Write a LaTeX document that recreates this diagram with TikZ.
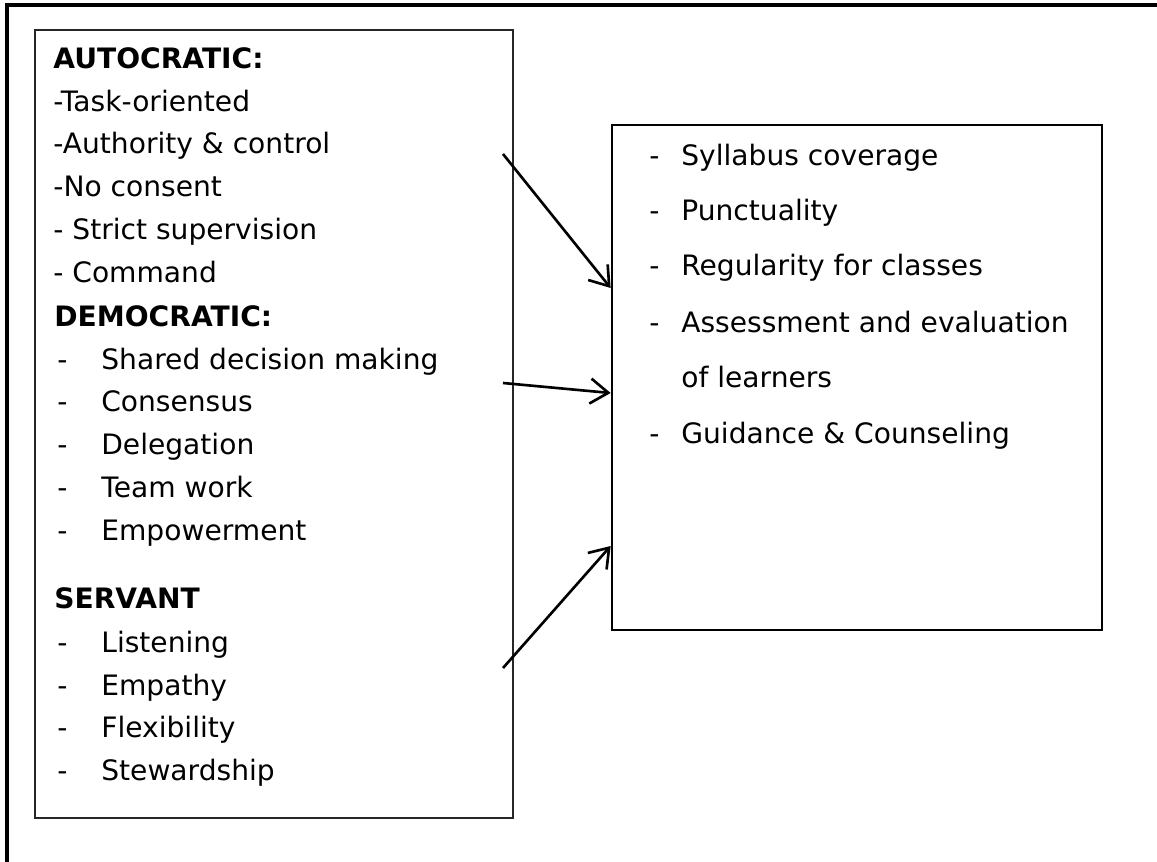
\documentclass[tikz,border=0pt]{standalone}
\usepackage{fontspec}
\setmainfont{DejaVu Sans}
\usepackage{tikz}
\usetikzlibrary{arrows.meta}

\newcommand{\dashitem}[2][0.88cm]{\makebox[#1][l]{-}#2}

\begin{document}
\begin{tikzpicture}[x=0.02cm, y=-0.02cm,
  line/.style={anchor=base west, inner sep=0pt, font=\fontsize{16}{20}\selectfont},
  head/.style={line, font=\fontsize{16}{20}\selectfont\bfseries},
  box/.style={rectangle, draw, inner sep=0pt},
  link/.style={line width=1.5pt, -{Straight Barb[length=0.36cm, width=0.5cm]}}]
  \useasboundingbox (0,0) rectangle (1157,862);
  % page frame, only top and left edge show
  \draw [line width=2.2pt] (7,862) -- (7,5) -- (1157,5);

  % the two boxes
  \node [box, line width=1.3pt, draw=black!85, minimum width=9.56cm, minimum height=15.76cm] (lead) at (274,424) {};
  \node [box, line width=1.6pt, minimum width=9.8cm, minimum height=10.1cm] (duty) at (857,377.5) {};

  % leadership styles
  \node [head] (auto) at (53,68) {AUTOCRATIC:};
  \node [line] (a1) at (53,111) {-Task-oriented};
  \node [line] (a2) at (53,153) {-Authority \& control};
  \node [line] (a3) at (53,196) {-No consent};
  \node [line] (a4) at (53,239) {- Strict supervision};
  \node [line] (a5) at (53,282) {- Command};
  \node [head] (demo) at (54,326) {DEMOCRATIC:};
  \node [line] (d1) at (57,369) {\dashitem{Shared decision making}};
  \node [line] (d2) at (57,411) {\dashitem{Consensus}};
  \node [line] (d3) at (57,454) {\dashitem{Delegation}};
  \node [line] (d4) at (57,497) {\dashitem{Team work}};
  \node [line] (d5) at (57,540) {\dashitem{Empowerment}};
  \node [head] (serv) at (54,608) {SERVANT};
  \node [line] (s1) at (57,652) {\dashitem{Listening}};
  \node [line] (s2) at (57,695) {\dashitem{Empathy}};
  \node [line] (s3) at (57,737) {\dashitem{Flexibility}};
  \node [line] (s4) at (57,780) {\dashitem{Stewardship}};

  % duties
  \node [line] (t1) at (649,165) {\dashitem[0.64cm]{Syllabus coverage}};
  \node [line] (t2) at (649,220) {\dashitem[0.64cm]{Punctuality}};
  \node [line] (t3) at (649,275) {\dashitem[0.64cm]{Regularity for classes}};
  \node [line] (t4) at (649,332) {\dashitem[0.64cm]{Assessment and evaluation}};
  \node [line] (t5) at (681,387) {of learners};
  \node [line] (t6) at (649,443) {\dashitem[0.64cm]{Guidance \& Counseling}};

  % arrows
  \coordinate (from1) at (503,154);
  \coordinate (from2) at (503,383);
  \coordinate (from3) at (503,668);
  \draw [link] (from1) -- (duty.west |- 0,288);
  \draw [link] (from2) -- (duty.west |- 0,393);
  \draw [link] (from3) -- (duty.west |- 0,546);
\end{tikzpicture}
\end{document}
